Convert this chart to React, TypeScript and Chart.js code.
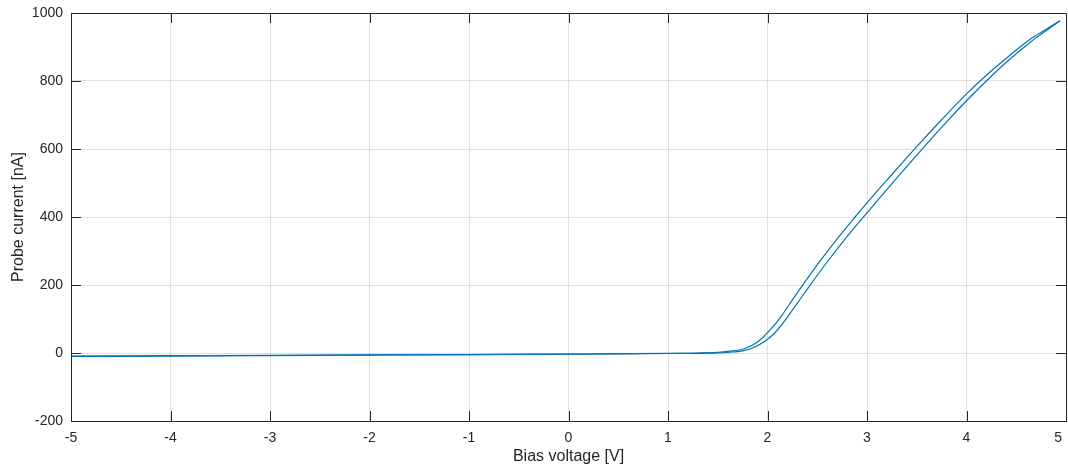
import React, { useEffect, useRef } from "react";
import { Chart, registerables } from "chart.js";

Chart.register(...registerables);

// Upper branch of the I-V sweep (bias voltage in V, probe current in nA)
const upperVoltage = [
  -5, -4, -3, -2, -1, 0, 0.5, 1.0, 1.3, 1.5, 1.65, 1.75, 1.86, 1.94, 2.0, 2.08,
  2.15, 2.25, 2.35, 2.52, 2.72, 2.88, 3.03, 3.25, 3.5, 3.75, 4.0, 4.2, 4.4, 4.65, 4.8, 4.94,
];
const upperCurrent = [
  -9, -8, -7, -5.5, -4.5, -3, -2, -1, 0, 2, 6, 11, 25, 42, 60, 86,
  113, 156, 198, 267, 343, 400, 452, 525, 607, 686, 762, 817, 867, 925, 952, 977,
];

// Lower branch of the I-V sweep
const lowerVoltage = [
  -5, -4, -3, -2, -1, 0, 0.5, 1.0, 1.3, 1.5, 1.65, 1.75, 1.86, 1.98, 2.07, 2.15,
  2.25, 2.42, 2.59, 2.83, 3.0, 3.09, 3.3, 3.56, 3.8, 4.0, 4.21, 4.4, 4.65, 4.8, 4.94,
];
const lowerCurrent = [
  -10, -9, -7.5, -6, -4.5, -3.5, -2.5, -1.5, -1, 0, 3, 6, 16, 36, 58, 86,
  126, 196, 264, 353, 412, 443, 515, 602, 680, 742, 803, 855, 916, 948, 977,
];

const xTicks = [-5, -4, -3, -2, -1, 0, 1, 2, 3, 4, 5];
const yTicks = [-200, 0, 200, 400, 600, 800, 1000];

const xTitle = "Bias voltage [V]";
const yTitle = "Probe current [nA]";

const LINE_COLOR = "#0072BD";
const AXIS_COLOR = "#262626";
const GRID_COLOR = "rgba(38,38,38,0.14)";
const FONT = "'Liberation Sans', Arial, Helvetica, sans-serif";

const toPoints = (xs: number[], ys: number[]) => xs.map((x, i) => ({ x, y: ys[i] }));

// Axes box with inward tick marks on all four sides
const boxTicksPlugin = {
  id: "boxTicks",
  afterDraw(chart: any) {
    const { ctx, chartArea, scales } = chart;
    const { left, right, top, bottom } = chartArea;
    const len = 10;
    ctx.save();
    ctx.strokeStyle = AXIS_COLOR;
    ctx.lineWidth = 1;
    ctx.beginPath();
    for (const v of xTicks) {
      const px = Math.round(scales.x.getPixelForValue(v)) + 0.5;
      ctx.moveTo(px, bottom);
      ctx.lineTo(px, bottom - len);
      ctx.moveTo(px, top);
      ctx.lineTo(px, top + len);
    }
    for (const v of yTicks) {
      const py = Math.round(scales.y.getPixelForValue(v)) + 0.5;
      ctx.moveTo(left, py);
      ctx.lineTo(left + len, py);
      ctx.moveTo(right, py);
      ctx.lineTo(right - len, py);
    }
    ctx.stroke();
    ctx.strokeRect(Math.round(left) + 0.5, Math.round(top) + 0.5, Math.round(right - left), Math.round(bottom - top));
    ctx.restore();
  },
};

export default function App() {
  const canvasRef = useRef<HTMLCanvasElement | null>(null);

  useEffect(() => {
    if (!canvasRef.current) return;
    const chart = new Chart(canvasRef.current, {
      type: "line",
      data: {
        datasets: [
          {
            data: toPoints(upperVoltage, upperCurrent),
            borderColor: LINE_COLOR,
            borderWidth: 1.2,
            pointRadius: 0,
            cubicInterpolationMode: "monotone",
            fill: false,
          },
          {
            data: toPoints(lowerVoltage, lowerCurrent),
            borderColor: LINE_COLOR,
            borderWidth: 1.2,
            pointRadius: 0,
            cubicInterpolationMode: "monotone",
            fill: false,
          },
        ],
      },
      options: {
        responsive: false,
        animation: false,
        layout: { padding: { left: 0, right: 2, top: 13, bottom: 0 } },
        plugins: {
          legend: { display: false },
          tooltip: { enabled: false },
        },
        scales: {
          x: {
            type: "linear",
            min: -5,
            max: 5,
            afterBuildTicks: (scale: any) => {
              scale.ticks = xTicks.map((value) => ({ value }));
            },
            afterFit: (scale: any) => {
              scale.height = 49;
              scale.paddingLeft = 0;
              scale.paddingRight = 0;
            },
            grid: { color: GRID_COLOR, drawTicks: false, lineWidth: 1 },
            border: { display: false },
            ticks: {
              padding: 9,
              color: AXIS_COLOR,
              font: { family: FONT, size: 14 },
              maxRotation: 0,
              // the last label is padded so it stays inside the canvas edge
              callback: (v: any) => (v === 5 ? "5    " : String(v)),
            },
            title: {
              display: true,
              text: xTitle,
              color: AXIS_COLOR,
              font: { family: FONT, size: 16 },
              padding: { top: 0, bottom: 3.5 },
            },
          },
          y: {
            type: "linear",
            min: -200,
            max: 1000,
            afterBuildTicks: (scale: any) => {
              scale.ticks = yTicks.map((value) => ({ value }));
            },
            afterFit: (scale: any) => {
              scale.width = 71;
              scale.paddingTop = 0;
              scale.paddingBottom = 0;
            },
            grid: { color: GRID_COLOR, drawTicks: false, lineWidth: 1 },
            border: { display: false },
            ticks: {
              padding: 8,
              color: AXIS_COLOR,
              font: { family: FONT, size: 14 },
              callback: (v: any) => String(v),
            },
            title: {
              display: true,
              text: yTitle,
              color: AXIS_COLOR,
              font: { family: FONT, size: 16 },
              padding: { top: 9, bottom: 0 },
            },
          },
        },
      },
      plugins: [boxTicksPlugin],
    });
    return () => chart.destroy();
  }, []);

  return (
    <div style={{ position: "absolute", left: 0, top: 0, width: 1068, height: 470, background: "#fff" }}>
      <canvas ref={canvasRef} width={1068} height={470} />
    </div>
  );
}
